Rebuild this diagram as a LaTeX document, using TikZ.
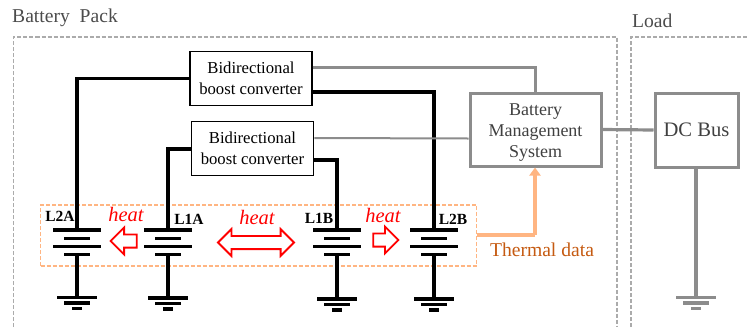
\documentclass[tikz,border=0pt]{standalone}
\usepackage{fontspec}
\setmainfont{Liberation Serif}
\usetikzlibrary{shapes.arrows,arrows.meta}
\definecolor{midgray}{HTML}{8C8C8C}
\definecolor{dashgray}{HTML}{ABABAB}
\definecolor{lightorange}{HTML}{FFB582}
\definecolor{darkorange}{HTML}{C55A11}
\tikzset{
  wire/.style={line width=3.4pt},
  bar/.style={line width=3.3pt},
  signal/.style={midgray,line width=3.2pt},
  conv/.style={draw,line width=1.7pt,minimum width=122pt,minimum height=54pt,align=center,font=\fontsize{16.7}{21}\selectfont,inner sep=0pt},
  ctrl/.style={draw=midgray,line width=3pt,align=center,inner sep=0pt,text=black!75},
  zone/.style={dashgray,line width=1.2pt,dash pattern=on 4pt off 2pt},
  cell/.style={font=\fontsize{15.5}{15.5}\selectfont\bfseries,inner sep=0pt},
  heatlbl/.style={red,font=\fontsize{20.5}{20.5}\selectfont\itshape,inner sep=0pt},
  heatarrow/.style={draw=red,line width=1.8pt,fill=white,inner xsep=0pt,inner ysep=5.7pt},
}
\begin{document}
\begin{tikzpicture}[x=1pt,y=-1pt]
\useasboundingbox (0,0) rectangle (749,327);

\node [inner sep=0pt,anchor=west,text=black!70,font=\fontsize{19.6}{19.6}\selectfont] (pack) at (12,18) {Battery\ \ Pack};
\node [inner sep=0pt,anchor=west,text=black!70,font=\fontsize{19.6}{19.6}\selectfont] (load) at (632,21) {Load};

\draw [zone] (13.5,327) -- (13.5,37) -- (617,37) -- (617,327);
\draw [zone] (631,327) -- (631,37) -- (749,37);

\node [conv] (conv1) at (251,78.5) {Bidirectional\\boost converter};
\node [conv] (conv2) at (252.5,148.5) {Bidirectional\\boost converter};
\node [ctrl,minimum width=131pt,minimum height=73pt,font=\fontsize{18}{21}\selectfont] (bms) at (535.5,129.5) {\rule{0pt}{17pt}Battery\\Management\\System};
\node [ctrl,minimum width=83pt,minimum height=74pt,font=\fontsize{20.6}{20.6}\selectfont] (dc) at (696.5,130) {DC Bus};

% orange box behind the cells
\node [draw=lightorange,line width=1.3pt,dash pattern=on 4pt off 2pt,minimum width=436pt,minimum height=61pt,inner sep=0pt] (sens) at (258.5,235.5) {};

% cells and grounds
\foreach \name/\xpos/\gnd in {L2A/77/297.5, L1A/168/298, L1B/337/299, L2B/434/299} {
  \coordinate (\name t) at (\xpos,230);
  \coordinate (\name b) at (\xpos,254.5);
  \coordinate (\name g) at (\xpos,\gnd);
  \draw [bar] (\xpos-24,230) -- (\xpos+24,230);
  \draw [bar] (\xpos-13,238.5) -- (\xpos+13,238.5);
  \draw [bar] (\xpos-24,246.5) -- (\xpos+24,246.5);
  \draw [bar] (\xpos-13,254.5) -- (\xpos+13,254.5);
  \draw [wire] (\name b) -- (\name g);
  \draw [bar] (\xpos-20,\gnd) -- (\xpos+20,\gnd);
  \draw [bar] (\xpos-13,\gnd+5.5) -- (\xpos+13,\gnd+5.5);
  \draw [bar] (\xpos-5,\gnd+11) -- (\xpos+5,\gnd+11);
}

\coordinate (dcg) at (696,297.5);
\draw [signal] (dc.south -| dcg) -- (dcg);
\draw [midgray,bar] (676,297.5) -- (716,297.5);
\draw [midgray,bar] (683,303) -- (709,303);
\draw [midgray,bar] (691,308.5) -- (701,308.5);

\draw [wire] (conv1.west) -| (L2At);
\draw [wire] ([yshift=-13.5pt]conv1.east) -| (L2Bt);
\draw [wire] ([yshift=-0.5pt]conv2.west) -| (L1At);
\draw [wire] ([yshift=-11.5pt]conv2.east) -| (L1Bt);

\draw [signal] ([yshift=11pt]conv1.east) -| (bms.north);
\draw [midgray,line width=2pt] ([yshift=10.5pt]conv2.east) -- (bms.west |- 469,138.5);
\draw [signal] (bms.east) -- (dc.west);

\coordinate (bend) at (535,235);
\draw [lightorange,line width=3.6pt] (sens.east |- bend) -- (bend);
\draw [lightorange,line width=3.6pt,-{Triangle[length=8pt,width=11pt]}] (bend) -- (bms.south -| bend);

\node [cell] (l2a) at (60,216) {L2A};
\node [cell] (l1a) at (189,219) {L1A};
\node [cell] (l1b) at (319,218) {L1B};
\node [cell] (l2b) at (453,219) {L2B};

\node [heatlbl] (h1) at (126,214) {heat};
\node [heatlbl] (h2) at (257,217) {heat};
\node [heatlbl] (h3) at (383,215) {heat};

\node [heatarrow,single arrow,single arrow head extend=6.8pt,shape border rotate=180,minimum height=26pt] (a1) at (127,241) {};
\node [heatarrow,double arrow,double arrow head extend=6.8pt,minimum height=76pt] (a2) at (256,242.5) {};
\node [heatarrow,single arrow,single arrow head extend=6.8pt,minimum height=25pt] (a3) at (382.5,240) {};

\node [inner sep=0pt,text=darkorange,font=\fontsize{19.6}{19.6}\selectfont] (therm) at (542,250) {Thermal data};
\end{tikzpicture}
\end{document}
